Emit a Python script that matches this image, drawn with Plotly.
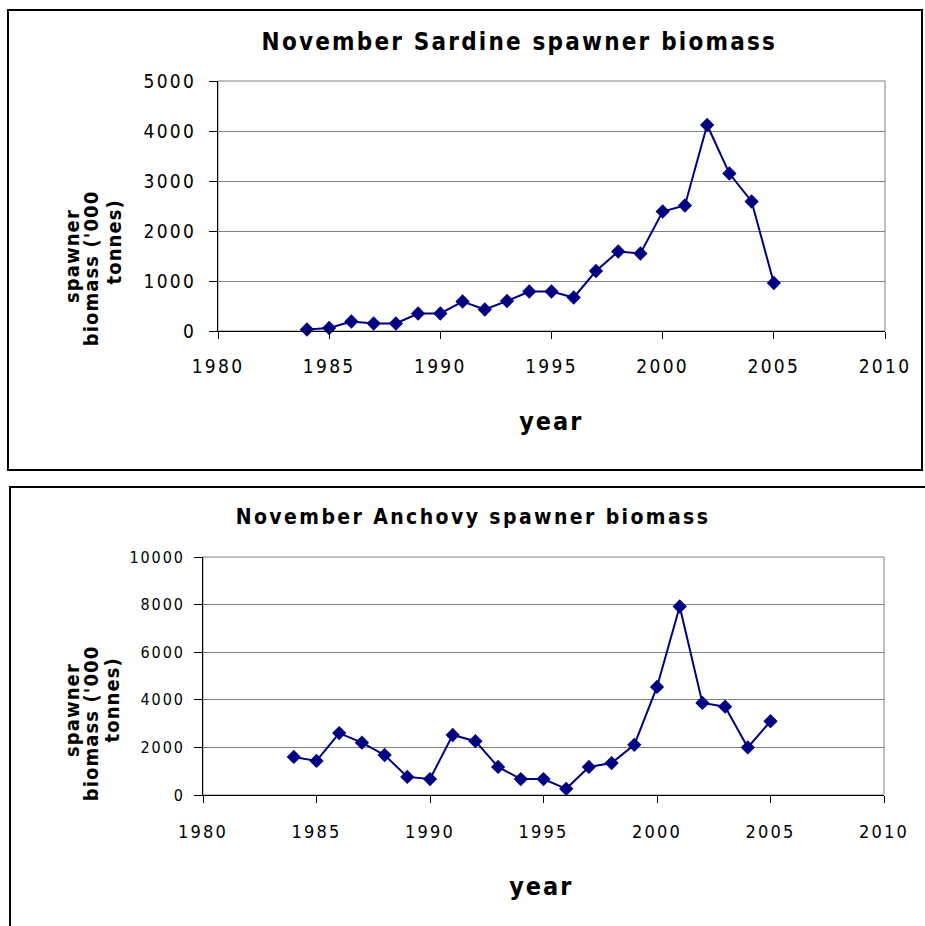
import plotly.graph_objects as go

years = list(range(1984, 2006))
sardine = [30, 60, 190, 150, 150, 350, 350, 590, 430, 600, 790, 790, 670,
           1200, 1590, 1550, 2390, 2510, 4120, 3150, 2590, 960]
anchovy = [1600, 1430, 2600, 2200, 1680, 760, 670, 2520, 2260, 1180, 670, 670, 260,
           1180, 1340, 2110, 4540, 7920, 3870, 3710, 2000, 3100]
x_ticks = [1980, 1985, 1990, 1995, 2000, 2005, 2010]
sardine_ticks = [0, 1000, 2000, 3000, 4000, 5000]
anchovy_ticks = [0, 2000, 4000, 6000, 8000, 10000]
title_top = "November Sardine spawner biomass"
title_bottom = "November Anchovy spawner biomass"
xlabel = "year"
ylabel_lines = ["spawner", "biomass ('000", "tonnes)"]

W, H = 925, 926
FAM = "DejaVu Sans"
NAVY = "#000080"


def px(x):
    return x / W


def py(y):
    return 1 - y / H


def fnt(size, bold=False):
    d = dict(family=FAM, size=size, color="#000")
    if bold:
        d["weight"] = "bold"
    return d


fig = go.Figure()
fig.add_trace(go.Scatter(x=years, y=sardine, mode="lines+markers", xaxis="x", yaxis="y",
                         line=dict(color=NAVY, width=2),
                         marker=dict(symbol="diamond", size=11, color=NAVY),
                         cliponaxis=False, showlegend=False))
fig.add_trace(go.Scatter(x=years, y=anchovy, mode="lines+markers", xaxis="x2", yaxis="y2",
                         line=dict(color=NAVY, width=2),
                         marker=dict(symbol="diamond", size=11, color=NAVY),
                         cliponaxis=False, showlegend=False))


def xax(dom, anchor, fs, standoff):
    return dict(domain=dom, anchor=anchor, range=[1980, 2010], tickvals=x_ticks,
                ticktext=[str(v) for v in x_ticks],
                ticks="outside", ticklen=7, tickcolor="#000", showline=True,
                linecolor="#000", linewidth=1, showgrid=False, zeroline=False,
                tickfont=fnt(fs), ticklabelstandoff=standoff, automargin=False,
                fixedrange=True)


def yax(dom, anchor, rng, tv, fs, standoff):
    return dict(domain=dom, anchor=anchor, range=rng, tickvals=tv,
                ticktext=[str(v) for v in tv],
                ticks="outside", ticklen=8, tickcolor="#000", showline=True,
                linecolor="#000", linewidth=1, showgrid=True, gridcolor="#808080",
                gridwidth=1, zeroline=False,
                tickfont=fnt(fs), ticklabelstandoff=standoff, automargin=False,
                fixedrange=True)


fig.update_layout(
    width=W, height=H, margin=dict(l=0, r=0, t=0, b=0),
    paper_bgcolor="white", plot_bgcolor="white",
    xaxis=xax([px(218), px(885)], "y", 19, 11),
    yaxis=yax([py(331), py(81)], "x", [0, 5000], sardine_ticks, 19, 9),
    xaxis2=xax([px(203), px(884)], "y2", 18, 13),
    yaxis2=yax([py(795), py(557)], "x2", [0, 10000], anchovy_ticks, 16, 6),
)

shapes = [
    dict(type="rect", xref="paper", yref="paper", x0=px(8), x1=px(922), y0=py(470), y1=py(10),
         line=dict(color="#000", width=2)),
    dict(type="rect", xref="paper", yref="paper", x0=px(10), x1=px(930), y0=py(935), y1=py(487),
         line=dict(color="#000", width=2)),
    dict(type="rect", xref="paper", yref="paper", x0=px(218), x1=px(885), y0=py(331), y1=py(81),
         line=dict(color="#808080", width=1), layer="below"),
    dict(type="rect", xref="paper", yref="paper", x0=px(203), x1=px(884), y0=py(795), y1=py(557),
         line=dict(color="#808080", width=1), layer="below"),
]
fig.update_layout(shapes=shapes)


def ann(text, x, y, size, angle=0):
    return dict(text=text, x=px(x), y=py(y), xref="paper", yref="paper",
                xanchor="center", yanchor="middle", showarrow=False, textangle=angle,
                font=fnt(size, True))


anns = [
    ann(title_top, 519, 42, 24),
    ann(xlabel, 551, 421, 25),
    ann(ylabel_lines[0], 72, 256, 20, -90),
    ann(ylabel_lines[1], 91, 269, 20, -90),
    ann(ylabel_lines[2], 114, 242, 20, -90),
    ann(title_bottom, 473, 517, 21),
    ann(xlabel, 541, 886, 25),
    ann(ylabel_lines[0], 72, 710, 20, -90),
    ann(ylabel_lines[1], 91, 724, 20, -90),
    ann(ylabel_lines[2], 112, 700, 20, -90),
]
fig.update_layout(annotations=anns)

post = """
document.documentElement.style.margin = '0';
document.body.style.margin = '0';
document.body.style.overflow = 'hidden';
var gd = document.getElementsByClassName('plotly-graph-div')[0];
var sp = {24: 2.2, 21: 2.4, 25: 2.0, 20: 1.1};
gd.querySelectorAll('text').forEach(function(t){
  var fs = Math.round(parseFloat(t.style.fontSize) || 12);
  t.style.fontStretch = 'condensed';
  var s = (fs in sp) ? sp[fs] : fs * 0.12;
  t.style.letterSpacing = s + 'px';
});
"""
fig.write_html("out.html", post_script=post, config={"displayModeBar": False})
